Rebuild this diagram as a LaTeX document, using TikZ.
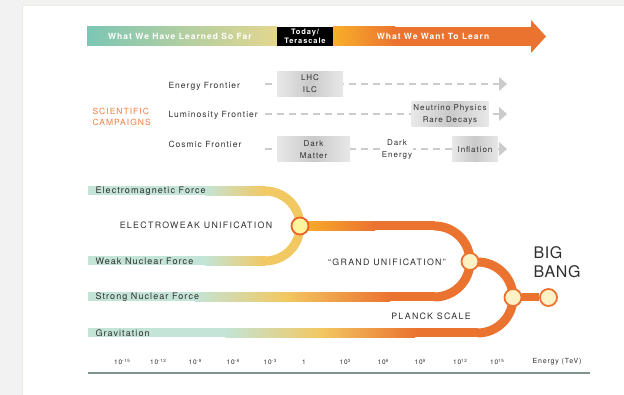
\documentclass[tikz,border=0pt]{standalone}
\usepackage{fontspec}
\setmainfont{TeX Gyre Heros}[LetterSpace=12]
\newfontfamily\capsfont{TeX Gyre Heros}[LetterSpace=15]
\newfontfamily\bangfont{TeX Gyre Heros}[LetterSpace=4]

\definecolor{lrnteal}{HTML}{7DC6B5}
\definecolor{paleyel}{HTML}{E4D68F}
\definecolor{mint}{HTML}{C3E4D6}
\definecolor{gold}{HTML}{F2C862}
\definecolor{amber}{HTML}{F8AF2A}
\definecolor{rust}{HTML}{EB7330}
\definecolor{cream}{HTML}{FDF1C6}
\definecolor{ink}{HTML}{303030}
\definecolor{campor}{HTML}{EE7E40}
\definecolor{dashgray}{HTML}{CBCBCB}
\definecolor{axisgray}{HTML}{7F958C}
\definecolor{panelline}{HTML}{EEEDE4}

\begin{document}
\begin{tikzpicture}[x=1pt, y=-1pt,
    bartext/.style={text=white, font=\fontsize{8.5}{10}\selectfont\bfseries},
    camp/.style={text=ink, font=\fontsize{8.5}{10}\selectfont, anchor=west},
    grayb/.style={left color=black!9, right color=black!9, middle color=black!21,
        text=ink, font=\fontsize{8}{12}\selectfont, align=center, inner sep=0pt},
    dashl/.style={dashgray, line width=1.3pt, dash pattern=on 7pt off 5pt},
    force/.style={text=ink, font=\fontsize{9}{10}\selectfont, anchor=west},
    caps/.style={text=ink, font=\capsfont\fontsize{8.8}{10}\selectfont},
    junc/.style={circle, fill=cream, draw=rust, line width=1.8pt, minimum size=17pt, inner sep=0pt},
    tick/.style={text=ink, font=\fontsize{6.5}{8}\selectfont}]
    \useasboundingbox (0,0) rectangle (624,395);
    \fill[black!5] (0,0) rectangle (624,395);
    \filldraw[fill=white, draw=panelline] (22,5.5) rectangle (626,397);

    % timeline arrow
    \shade[left color=lrnteal, right color=paleyel] (87,27) rectangle (277,46);
    \fill[black] (277,27) rectangle (333,46);
    \shade[left color=amber, right color=rust] (333,27) rectangle (395,46);
    \fill[rust] (395,27) rectangle (532,46);
    \fill[rust] (531,20) -- (546,36.5) -- (531,53) -- cycle;
    \node[bartext] (past) at (180,36.5) {What We Have Learned So Far};
    \node[bartext, font=\fontsize{7.5}{9.5}\selectfont\bfseries, align=center] (today) at (305,36.5) {Today/\\Terascale};
    \node[bartext] (future) at (433,36.5) {What We Want To Learn};

    % campaigns
    \node[text=campor, font=\fontsize{8.5}{11}\selectfont, anchor=west, align=left] (sci) at (89,117) {SCIENTIFIC\\CAMPAIGNS};
    \node[camp] (enf) at (165,86) {Energy Frontier};
    \node[camp] (lumf) at (165,115) {Luminosity Frontier};
    \node[camp] (cosf) at (165,144) {Cosmic Frontier};

    \coordinate (en0) at (265,84);  \coordinate (en1) at (499,84);
    \coordinate (lu0) at (265,114); \coordinate (lu1) at (499,114);
    \coordinate (co0) at (265,149); \coordinate (co1) at (499,149);
    \foreach \r in {en,lu,co} {
        \draw[dashl] (\r0) -- (\r1);
        \fill[dashgray] (\r1) ++(0,-7) -- ++(8,7) -- ++(-8,7) -- cycle;
    }
    \node[grayb, minimum width=66pt, minimum height=25pt] (lhc) at (310,84) {LHC\\ILC};
    \node[grayb, minimum width=77pt, minimum height=25pt] (nu) at (450,114.5) {Neutrino Physics\\Rare Decays};
    \node[grayb, minimum width=73pt, minimum height=25pt] (dm) at (313.5,149.5) {Dark\\Matter};
    \node[fill=white, text=ink, font=\fontsize{8}{12}\selectfont, align=center, inner sep=1pt] (de) at (397,149) {Dark\\Energy};
    \node[grayb, minimum width=46pt, minimum height=25pt] (infl) at (475,149.5) {Inflation};

    % forces
    \foreach \y in {191,261} {
        \fill[mint] (88,\y-4.5) rectangle (205,\y+4.5);
        \shade[left color=mint, right color=gold] (205,\y-4.5) rectangle (265.5,\y+4.5);
    }
    \draw[gold, line width=9pt] (265,191) arc[start angle=-90, end angle=90, radius=35];

    \fill[mint] (88,292.5) rectangle (195,301.5);
    \shade[left color=mint, right color=gold] (195,292.5) rectangle (285,301.5);
    \shade[left color=gold, right color=rust] (285,292.5) rectangle (390,301.5);
    \fill[rust] (390,292.5) rectangle (434.5,301.5);
    \shade[left color=amber, right color=rust] (300,221.5) rectangle (375,230.5);
    \fill[rust] (375,221.5) rectangle (434.5,230.5);
    \draw[rust, line width=9pt] (434.5,297) arc[start angle=90, end angle=-90, radius=35.5];

    \fill[mint] (88,328.5) rectangle (225,337.5);
    \shade[left color=mint, right color=gold] (225,328.5) rectangle (320,337.5);
    \shade[left color=gold, right color=rust] (320,328.5) rectangle (415,337.5);
    \fill[rust] (415,328.5) rectangle (477.5,337.5);
    \draw[rust, line width=9pt] (477.5,333) arc[start angle=90, end angle=-90, radius=35.5];

    \node[force] (em) at (92,191) {Electromagnetic Force};
    \node[force] (weak) at (92,261) {Weak Nuclear Force};
    \node[force] (strong) at (92,297) {Strong Nuclear Force};
    \node[force] (grav) at (92,333) {Gravitation};

    \node[junc, fill=cream!80!yellow, draw=rust!85!red] (ew) at (300,226) {};
    \node[junc] (gu) at (470,261.5) {};
    \node[junc] (planck) at (513,297.5) {};
    \node[junc] (bang) at (548.5,297.5) {};
    \draw[rust, line width=8pt] (planck) -- (bang);

    \node[caps] (ewu) at (196,225) {ELECTROWEAK UNIFICATION};
    \node[caps] (gut) at (387,262) {“GRAND UNIFICATION”};
    \node[caps] (pls) at (431,316) {PLANCK SCALE};
    \node[text=ink, font=\bangfont\fontsize{16}{19}\selectfont, anchor=west, align=left] (bigbang) at (530,262) {BIG\\BANG};

    % energy axis
    \draw[axisgray, line width=2pt] (88,373) -- (590,373);
    \foreach \x/\e in {122/-15, 158/-12, 195/-9, 233/-6, 270/-3, 345/3, 383/6, 420/9, 460/12, 497/15}
        \node[tick] (t\e) at (\x,362) {10\raisebox{0.55ex}{\fontsize{4.5}{5}\selectfont\e}};
    \node[tick] (t0) at (304,362) {1};
    \node[tick, font=\fontsize{7}{8}\selectfont] (unit) at (557,362) {Energy (TeV)};
\end{tikzpicture}
\end{document}
